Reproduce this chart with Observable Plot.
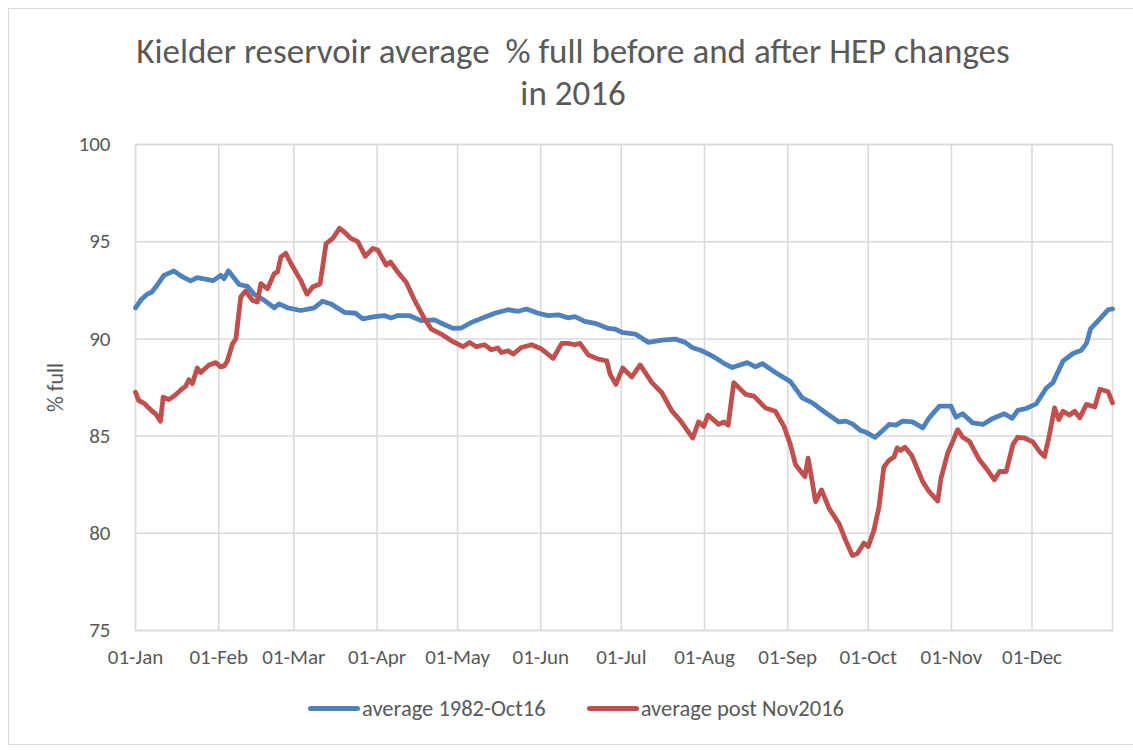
<!DOCTYPE html>
<html>
<head>
<meta charset="utf-8">
<script src="https://cdn.jsdelivr.net/npm/d3@7"></script>
<script src="https://cdn.jsdelivr.net/npm/@observablehq/plot@0.6"></script>
<style>
  html, body { margin: 0; padding: 0; background: #fff; }
  #wrap { position: relative; width: 1133px; height: 750px; overflow: hidden; font-family: Carlito, Calibri, Lato, sans-serif; color: #595959; }
  #border { position: absolute; left: 8px; top: 8px; width: 1135px; height: 737px; border: 1.5px solid #d9d9d9; box-sizing: border-box; }
  #title { position: absolute; left: 0; top: 30px; width: 1146px; text-align: center; font-size: 35px; line-height: 42px; color: #595959; white-space: pre; }
  #chart { position: absolute; left: 0; top: 0; }
  #legend { position: absolute; left: 308px; top: 695px; display: flex; align-items: center; font-size: 22.5px; color: #595959; }
  .item { display: flex; align-items: center; margin-right: 41px; }
  .sw { width: 52px; height: 5px; border-radius: 3px; margin-right: 2px; }
  #chart [aria-label="y-axis label"] text { font-size: 22px; }
</style>
</head>
<body>
<div id="wrap">
  <div id="border"></div>
  <div id="title">Kielder reservoir average  % full before and after HEP changes
in 2016</div>
  <div id="chart"></div>
  <div id="legend"></div>
</div>
<script>
// Day of year (0 = 01-Jan) and % full
const seriesNames = ["average 1982-Oct16", "average post Nov2016"];
const seriesColors = ["#4F81BD", "#C0504D"];

const blueDays = [0,2,4.3,6,8,10.6,14.3,17.4,20.5,23,29,31.7,33,34.6,38.6,41.7,44.2,48,51.7,53.5,56.7,61.6,66.6,69.7,72.8,77.8,82,84.7,89,92.7,95.2,97.7,102,106.4,111.4,115.2,118.3,121.4,125.2,130,133.8,138.8,142.6,145.7,150,153.7,157.5,161.2,163.7,167.4,171.2,176.2,178.7,181.2,186.2,191.1,196.1,201.1,204.8,207.3,211,214.8,219.8,222.3,227.9,231,233.5,238.4,244,248.4,252.2,257.1,262.1,264.6,267.1,270.2,272,275.6,278.3,280.8,283.3,285.8,289.5,293.3,295.7,299.5,303.8,305.7,308.2,311.9,315.7,319.4,323.7,326.6,328.7,331.8,335.6,339.3,341.8,345.6,349.3,352.4,354.3,355.8,359.3,362.4,364];
const blueVals = [91.6,92.0,92.3,92.4,92.75,93.27,93.5,93.2,92.98,93.15,93.0,93.27,93.1,93.5,92.8,92.7,92.3,91.98,91.6,91.8,91.6,91.46,91.6,91.94,91.8,91.37,91.32,91.03,91.15,91.2,91.08,91.2,91.2,90.94,90.98,90.73,90.54,90.56,90.85,91.11,91.32,91.5,91.42,91.54,91.32,91.2,91.24,91.08,91.15,90.9,90.8,90.54,90.5,90.34,90.25,89.82,89.94,89.99,89.82,89.56,89.39,89.13,88.7,88.53,88.78,88.56,88.73,88.27,87.8,86.97,86.71,86.2,85.73,85.77,85.63,85.28,85.21,84.94,85.28,85.6,85.56,85.77,85.73,85.42,85.94,86.54,86.54,85.97,86.15,85.68,85.6,85.91,86.15,85.91,86.32,86.42,86.66,87.46,87.75,88.87,89.25,89.42,89.77,90.51,91.03,91.5,91.54];

const redDays = [0,1.2,3.1,6.2,7.5,9.3,10.3,12.4,14.3,16.8,18.7,19.9,21.2,23,24.3,27.4,29.9,31.7,33,34.2,36.1,37.4,39.2,41,43.6,45.4,46.7,49.2,51.7,52.9,54.2,56,57.9,61.6,63.9,66,68.8,71,73.5,76,77.8,80.3,82.8,85.6,88.4,90.3,93.4,95,97.7,100.9,104,107.7,110.2,113.9,117.7,122,124.5,127,130,132.6,135,136.3,138.8,140.7,143.8,147.6,151.3,155.6,158.8,161.2,163.7,165.6,168.7,172.4,175.6,176.8,179,181.5,184.9,188,192.4,196.1,199.9,203,207.6,209.8,211.7,213.3,217.3,219.2,220.8,222.9,227.3,230.4,234.7,238.4,241.6,244,245.9,249.4,250.6,253.4,255.6,258.4,262.1,264.6,267.1,268.9,271.4,273,275.1,277,278.8,280.7,282.6,283.8,285,286.7,289.2,293.3,295.7,298.9,300.1,302.6,304.5,306.3,308.2,310.7,314.4,316.9,320,321.9,324.4,326.9,328.7,331.2,334.3,336.8,338.7,340.5,342.4,344,345.6,348,349.9,351.8,354.3,357.4,359.3,362.4,364];
const redVals = [87.26,86.83,86.7,86.28,86.15,85.77,87.0,86.88,87.05,87.36,87.57,87.9,87.7,88.5,88.27,88.66,88.78,88.56,88.6,88.85,89.74,90.0,92.15,92.46,91.98,91.9,92.84,92.58,93.36,93.44,94.22,94.4,93.88,93.0,92.3,92.67,92.84,94.9,95.17,95.69,95.5,95.17,95.0,94.25,94.65,94.57,93.8,93.96,93.44,92.9,91.98,91.03,90.5,90.25,89.9,89.6,89.82,89.6,89.7,89.44,89.53,89.3,89.39,89.22,89.56,89.7,89.48,89.0,89.77,89.77,89.7,89.77,89.18,88.96,88.87,88.18,87.66,88.5,88.04,88.66,87.75,87.23,86.28,85.8,84.9,85.73,85.5,86.08,85.6,85.73,85.56,87.75,87.15,87.06,86.45,86.28,85.5,84.56,83.53,82.92,83.87,81.63,82.23,81.28,80.5,79.63,78.86,78.95,79.5,79.32,80.15,81.35,83.4,83.75,83.92,84.4,84.26,84.43,84.0,82.66,82.14,81.66,82.83,84.13,84.73,85.33,84.94,84.73,83.78,83.35,82.75,83.18,83.18,84.56,84.94,84.9,84.7,84.21,83.95,85.07,86.45,85.85,86.28,86.08,86.28,85.94,86.63,86.5,87.41,87.28,86.71];

const monthStarts = [0,31,59,90,120,151,181,212,243,273,304,334];
const monthLabels = ["01-Jan","01-Feb","01-Mar","01-Apr","01-May","01-Jun","01-Jul","01-Aug","01-Sep","01-Oct","01-Nov","01-Dec"];
const yTicks = [75,80,85,90,95,100];

const rows = [];
blueDays.forEach((d, i) => rows.push({day: d, value: blueVals[i], series: seriesNames[0]}));
redDays.forEach((d, i) => rows.push({day: d, value: redVals[i], series: seriesNames[1]}));

const chart = Plot.plot({
  width: 1133,
  height: 680,
  marginLeft: 135,
  marginRight: 21,
  marginTop: 144,
  marginBottom: 50,
  style: {fontFamily: "Carlito, Calibri, Lato, sans-serif", fontSize: "21px", color: "#595959", background: "transparent", overflow: "visible"},
  x: {type: "linear", domain: [0, 364], ticks: monthStarts, tickFormat: d => monthLabels[monthStarts.indexOf(d)], tickSize: 0, tickPadding: 19, label: null},
  y: {domain: [75, 100], ticks: yTicks, tickSize: 0, tickPadding: 25, label: "% full", labelAnchor: "center", labelArrow: "none", labelOffset: 88},
  color: {domain: seriesNames, range: seriesColors},
  marks: [
    Plot.ruleX(monthStarts, {stroke: "#d9d9d9", strokeWidth: 1.5}),
    Plot.ruleY(yTicks, {stroke: "#d9d9d9", strokeWidth: 1.5}),
    Plot.frame({stroke: "#d9d9d9", strokeWidth: 1.5}),
    Plot.line(rows, {x: "day", y: "value", z: "series", stroke: "series", strokeWidth: 4.8, strokeLinejoin: "round", strokeLinecap: "round"})
  ]
});
document.getElementById("chart").appendChild(chart);

const legend = document.getElementById("legend");
seriesNames.forEach((name, i) => {
  const item = document.createElement("div");
  item.className = "item";
  const sw = document.createElement("div");
  sw.className = "sw";
  sw.style.background = seriesColors[i];
  const t = document.createElement("span");
  t.textContent = name;
  item.appendChild(sw);
  item.appendChild(t);
  legend.appendChild(item);
});
</script>
</body>
</html>
